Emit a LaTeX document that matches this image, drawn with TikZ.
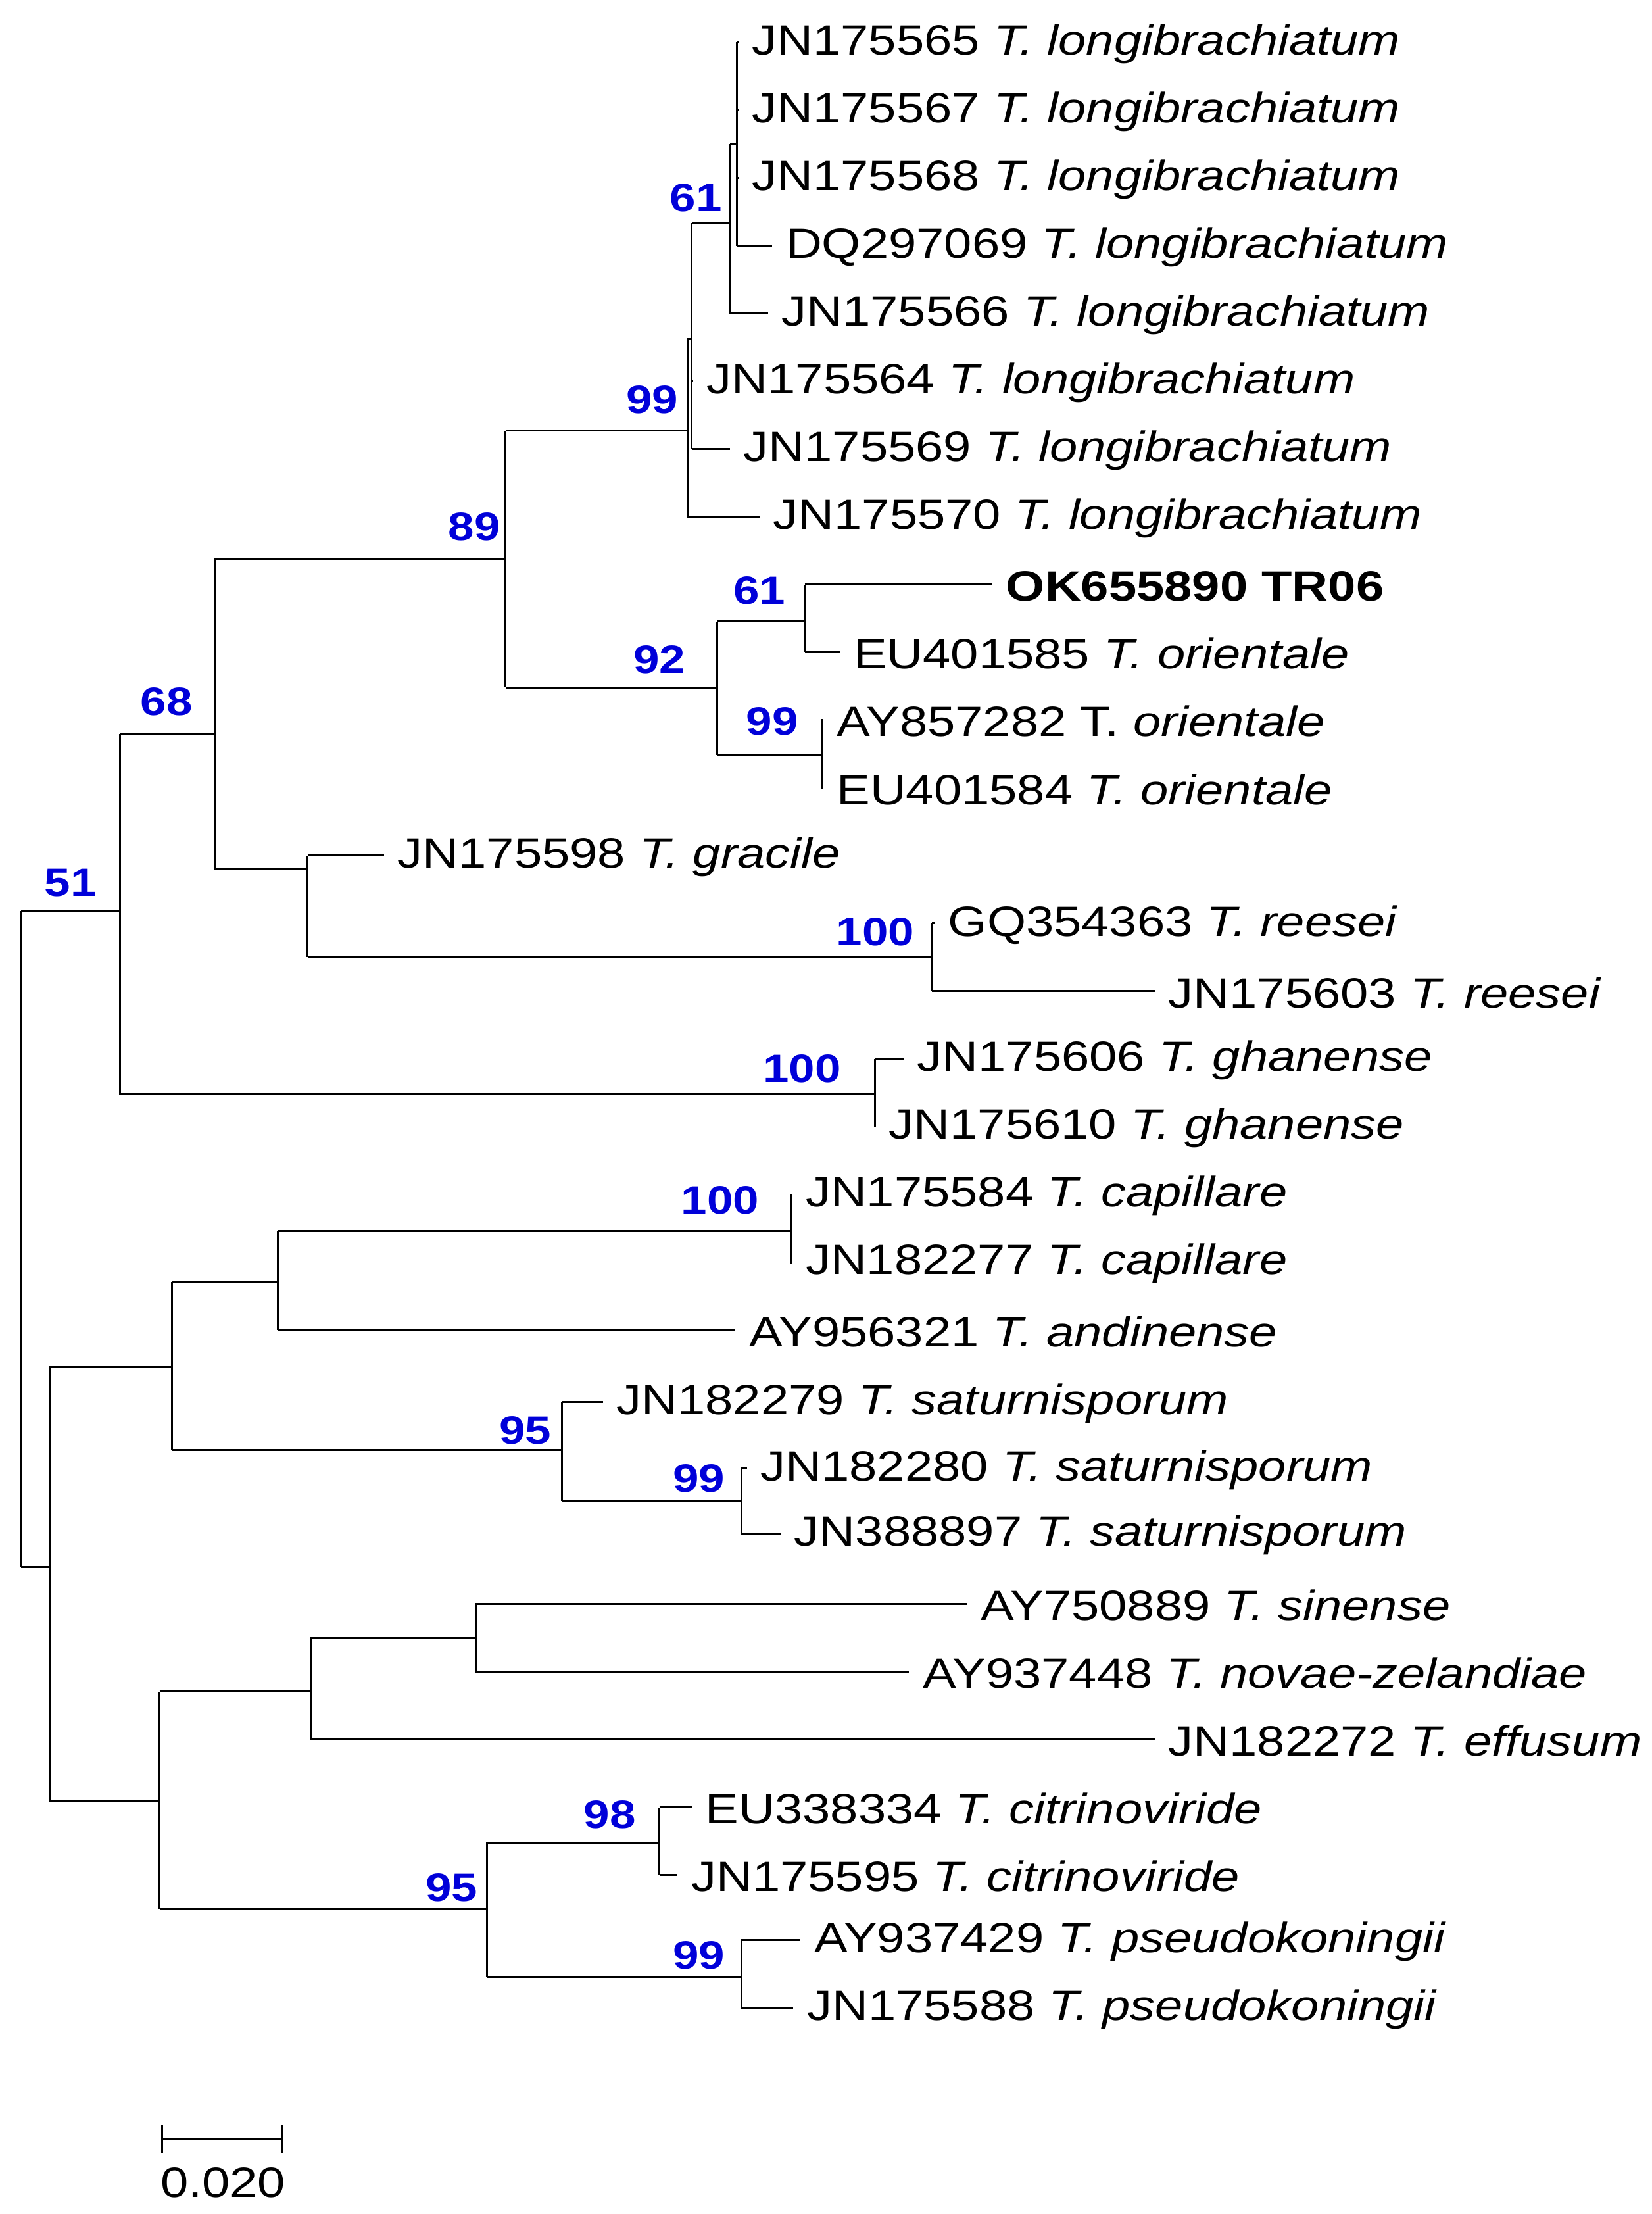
\documentclass[tikz,border=0pt]{standalone}
\usepackage{fontspec}
\setmainfont[FakeStretch=1.18]{Liberation Sans}
\begin{document}
\begin{tikzpicture}[x=1pt,y=-1pt,line width=1.4pt,
  lab/.style={font=\fontsize{30}{32}\selectfont,anchor=west,inner sep=0pt},
  bs/.style={font=\fontsize{28}{30}\selectfont\bfseries,text=blue!85!black,inner sep=0pt}]
\useasboundingbox (0,0) rectangle (1170,1568);
\newcommand\lf[5]{\draw (#1,#3) -- (#2,#3) node[lab,xshift=9pt,yshift=-1pt](#4){#5};}
\newcommand\vl[3]{\draw (#1,#2) -- (#1,#3);}
\newcommand\hl[3]{\draw (#1,#3) -- (#2,#3);}
% root
\vl{15}{645}{1110}
\hl{15}{85}{645}
\hl{15}{35}{1110}
% clade A
\vl{85}{520}{775}
\hl{85}{152}{520}
\hl{85}{620}{775}
\vl{620}{750}{798}
\lf{620}{640}{750}{l16}{JN175606 \textit{T. ghanense}}
\lf{620}{620}{798}{l17}{JN175610 \textit{T. ghanense}}
\vl{152}{396}{615}
\hl{152}{358}{396}
\hl{152}{218}{615}
\vl{218}{606}{678}
\lf{218}{272}{606}{l13}{JN175598 \textit{T. gracile}}
\hl{218}{660}{678}
\vl{660}{654}{702}
\lf{660}{662}{654}{l14}{GQ354363 \textit{T. reesei}}
\lf{660}{818}{702}{l15}{JN175603 \textit{T. reesei}}
\vl{358}{305}{487}
\hl{358}{487}{305}
\vl{487}{240}{366}
\lf{487}{538}{366}{l8}{JN175570 \textit{T. longibrachiatum}}
\hl{487}{490}{240}
\vl{490}{158}{318}
\lf{490}{491}{270}{l6}{JN175564 \textit{T. longibrachiatum}}
\lf{490}{517}{318}{l7}{JN175569 \textit{T. longibrachiatum}}
\hl{490}{517}{158}
\vl{517}{102}{222}
\lf{517}{544}{222}{l5}{JN175566 \textit{T. longibrachiatum}}
\hl{517}{522}{102}
\vl{522}{30}{174}
\lf{522}{523}{30}{l1}{JN175565 \textit{T. longibrachiatum}}
\lf{522}{523}{78}{l2}{JN175567 \textit{T. longibrachiatum}}
\lf{522}{523}{126}{l3}{JN175568 \textit{T. longibrachiatum}}
\lf{522}{547}{174}{l4}{DQ297069 \textit{T. longibrachiatum}}
\hl{358}{508}{487}
\vl{508}{440}{535}
\hl{508}{570}{440}
\vl{570}{414}{462}
\lf{570}{703}{414}{l9}{\textbf{OK655890 TR06}}
\lf{570}{595}{462}{l10}{EU401585 \textit{T. orientale}}
\hl{508}{582}{535}
\vl{582}{510}{558}
\lf{582}{583}{510}{l11}{AY857282 T. \textit{orientale}}
\lf{582}{583}{558}{l12}{EU401584 \textit{T. orientale}}
% clade B
\vl{35}{968}{1275}
\hl{35}{122}{968}
\hl{35}{113}{1275}
\vl{122}{908}{1027}
\hl{122}{197}{908}
\vl{197}{872}{942}
\hl{197}{560}{872}
\vl{560}{846}{894}
\lf{560}{561}{846}{l18}{JN175584 \textit{T. capillare}}
\lf{560}{561}{894}{l19}{JN182277 \textit{T. capillare}}
\lf{197}{521}{942}{l20}{AY956321 \textit{T. andinense}}
\hl{122}{398}{1027}
\vl{398}{993}{1063}
\lf{398}{427}{993}{l21}{JN182279 \textit{T. saturnisporum}}
\hl{398}{525}{1063}
\vl{525}{1040}{1086}
\lf{525}{529}{1040}{l22}{JN182280 \textit{T. saturnisporum}}
\lf{525}{553}{1086}{l23}{JN388897 \textit{T. saturnisporum}}
\vl{113}{1198}{1352}
\hl{113}{220}{1198}
\vl{220}{1160}{1232}
\hl{220}{337}{1160}
\vl{337}{1136}{1184}
\lf{337}{685}{1136}{l24}{AY750889 \textit{T. sinense}}
\lf{337}{644}{1184}{l25}{AY937448 \textit{T. novae-zelandiae}}
\lf{220}{818}{1232}{l26}{JN182272 \textit{T. effusum}}
\hl{113}{345}{1352}
\vl{345}{1305}{1400}
\hl{345}{467}{1305}
\vl{467}{1280}{1328}
\lf{467}{490}{1280}{l27}{EU338334 \textit{T. citrinoviride}}
\lf{467}{480}{1328}{l28}{JN175595 \textit{T. citrinoviride}}
\hl{345}{525}{1400}
\vl{525}{1374}{1422}
\lf{525}{567}{1374}{l29}{AY937429 \textit{T. pseudokoningii}}
\lf{525}{562}{1422}{l30}{JN175588 \textit{T. pseudokoningii}}
% bootstrap
\foreach \t/\x/\y in {61/493/140,99/462/283,89/336/373,61/538/418,92/467/467,99/547/511,68/118/497,51/50/625,100/620/660,100/568/757,100/510/850,95/372/1013,99/495/1047,98/432/1285,95/320/1337,99/495/1385}
  \node[bs] at (\x,\y) {\t};
% scale bar
\draw (115,1515) -- (200,1515);
\draw (115,1505) -- (115,1525);
\draw (200,1505) -- (200,1525);
\node[lab,anchor=center] (sc) at (158,1546) {0.020};
\end{tikzpicture}
\end{document}
